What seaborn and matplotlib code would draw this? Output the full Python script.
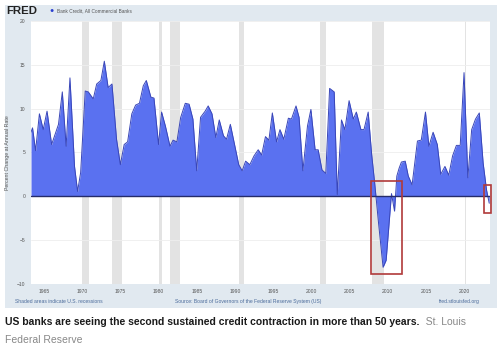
import matplotlib
matplotlib.use("Agg")
import matplotlib.pyplot as plt
import seaborn as sns
from matplotlib.patches import Rectangle

# Bank Credit, All Commercial Banks - percent change at annual rate
years = [1963.3, 1963.5, 1963.9, 1964.4, 1964.9, 1965.4, 1966.0, 1966.9, 1967.4, 1967.9,
         1968.4, 1969.0, 1969.4, 1969.8, 1970.4, 1970.8, 1971.45, 1971.9, 1972.45, 1972.9,
         1973.4, 1973.9, 1974.5, 1975.0, 1975.5, 1975.95, 1976.5, 1977.0, 1977.5, 1978.0,
         1978.4, 1979.0, 1979.4, 1980.0, 1980.4, 1980.9, 1981.5, 1981.9, 1982.4, 1982.9,
         1983.5, 1984.0, 1984.5, 1985.0, 1985.5, 1986.1, 1986.5, 1987.0, 1987.5, 1987.95,
         1988.5, 1988.9, 1989.4, 1990.0, 1990.5, 1990.95, 1991.4, 1991.95, 1992.5, 1993.05,
         1993.5, 1994.0, 1994.45, 1994.9, 1995.45, 1995.9, 1996.4, 1997.0, 1997.4, 1998.0,
         1998.4, 1998.9, 1999.5, 1999.95, 2000.5, 2000.9, 2001.4, 2001.9, 2002.4, 2003.0,
         2003.4, 2003.95, 2004.4, 2004.95, 2005.5, 2005.9, 2006.5, 2006.9, 2007.45, 2007.9,
         2008.3, 2008.8, 2009.4, 2009.8, 2010.5, 2010.9, 2011.2, 2011.5, 2011.8, 2012.3,
         2012.7, 2013.2, 2013.9, 2014.4, 2014.95, 2015.4, 2015.95, 2016.5, 2016.95, 2017.5,
         2018.0, 2018.5, 2019.0, 2019.5, 2020.0, 2020.5, 2021.0, 2021.5, 2022.0, 2022.5,
         2022.95, 2023.3]
credit = [7.3, 7.8, 5.2, 9.4, 7.6, 9.7, 5.9, 8.2, 11.9, 5.7,
          13.5, 3.4, 0.55, 2.7, 12.0, 11.9, 11.1, 12.8, 13.2, 15.4,
          12.4, 12.8, 6.5, 3.6, 5.9, 6.2, 9.4, 10.4, 10.6, 12.6,
          13.2, 11.3, 11.2, 5.9, 9.6, 8.0, 5.7, 6.4, 6.2, 9.0,
          10.6, 10.5, 8.8, 2.9, 9.0, 9.7, 10.3, 9.4, 6.7, 8.7,
          6.9, 6.5, 8.2, 5.7, 3.6, 2.9, 4.0, 3.6, 4.6, 5.3,
          4.7, 6.8, 6.4, 9.5, 6.2, 7.6, 6.5, 8.9, 8.8, 10.3,
          9.0, 2.9, 8.0, 9.9, 5.3, 5.3, 3.0, 2.6, 12.3, 11.9,
          0.2, 8.7, 7.6, 10.9, 8.8, 9.6, 7.6, 7.6, 9.6, 4.8,
          1.5, -3.0, -8.1, -7.3, 0.3, -1.7, 2.3, 3.2, 3.9, 4.0,
          2.3, 1.3, 6.3, 6.4, 9.6, 5.7, 7.3, 5.9, 2.5, 3.4,
          2.4, 4.6, 5.8, 5.8, 14.1, 2.1, 7.6, 8.8, 9.5, 3.8,
          0.7, -0.8]

recessions = [(1969.92, 1970.87), (1973.87, 1975.2), (1980.0, 1980.5), (1981.5, 1982.87),
              (1990.5, 1991.2), (2001.2, 2001.87), (2007.92, 2009.5), (2020.1, 2020.3)]
# red highlight boxes: (x0, x1, y0, y1)
highlights = [(2007.8, 2011.9, -8.9, 1.7), (2022.6, 2023.5, -1.9, 1.3)]

x_ticks = [1965, 1970, 1975, 1980, 1985, 1990, 1995, 2000, 2005, 2010, 2015, 2020]
y_ticks = [-10, -5, 0, 5, 10, 15, 20]

sns.set_style("white")
plt.rcParams["font.family"] = ["Liberation Sans", "DejaVu Sans"]

fig = plt.figure(figsize=(5, 3.54), dpi=100)
fig.patches.append(Rectangle((0.01, 0.13), 0.984, 0.856, transform=fig.transFigure,
                             facecolor="#e1e9f0", edgecolor="none", zorder=-5))

ax = fig.add_axes([0.062, 0.198, 0.918, 0.743])
ax.set_zorder(2)
ax.set_facecolor("white")
for a, b in recessions:
    ax.axvspan(a, b, color="#e3e3e3", lw=0, zorder=0)
for v in y_ticks:
    ax.axhline(v, color="#eeeeee", lw=0.6, zorder=0.5)

ax.fill_between(years, credit, 0, color="#5a71f0", lw=0, zorder=2)
sns.lineplot(x=years, y=credit, ax=ax, color="#3946b8", lw=0.7, zorder=3)
ax.axhline(0, color="#252c6a", lw=1.0, zorder=4)

for x0, x1, y0, y1 in highlights:
    ax.add_patch(Rectangle((x0, y0), x1 - x0, y1 - y0, fill=False, edgecolor="#b03a3a",
                           lw=1.2, zorder=5, clip_on=False))

ax.set_xlim(1963.3, 2023.4)
ax.set_ylim(-10, 20)
ax.set_xticks(x_ticks)
ax.set_yticks(y_ticks)
ax.tick_params(labelsize=3.6, colors="#555555", length=0, pad=4)
ax.set_ylabel("Percent Change at Annual Rate", fontsize=3.8, color="#555555", labelpad=5)
for s in ax.spines.values():
    s.set_visible(False)

# header
fig.text(0.012, 0.97, "FRED", fontsize=8.2, fontweight="bold", color="#222222",
         va="center")
fig.text(0.099, 0.97, "\u25CF", fontsize=5, color="#2a3fd0", va="center")
fig.text(0.114, 0.97, "Bank Credit, All Commercial Banks", fontsize=3.4,
         color="#555555", va="center")

# footer notes
fig.text(0.03, 0.147, "Shaded areas indicate U.S. recessions", fontsize=3.6,
         color="#4a6a9a", va="center")
fig.text(0.496, 0.147, "Source: Board of Governors of the Federal Reserve System (US)",
         fontsize=3.6, color="#4a6a9a", va="center", ha="center")
fig.text(0.96, 0.147, "fred.stlouisfed.org", fontsize=3.6, color="#4a6a9a",
         va="center", ha="right")

# caption
cap = fig.text(0.01, 0.082, "US banks are seeing the second sustained credit contraction "
               "in more than 50 years.", fontsize=7.5, fontweight="bold", color="#1a1a1a",
               va="baseline")
fig.text(0.01, 0.03, "Federal Reserve", fontsize=7.5, color="#888888", va="baseline")
ax.annotate("  St. Louis", xy=(1, 0), xycoords=cap, fontsize=7.5, color="#888888",
            va="bottom", annotation_clip=False)

fig.savefig("out.png", dpi=100)
